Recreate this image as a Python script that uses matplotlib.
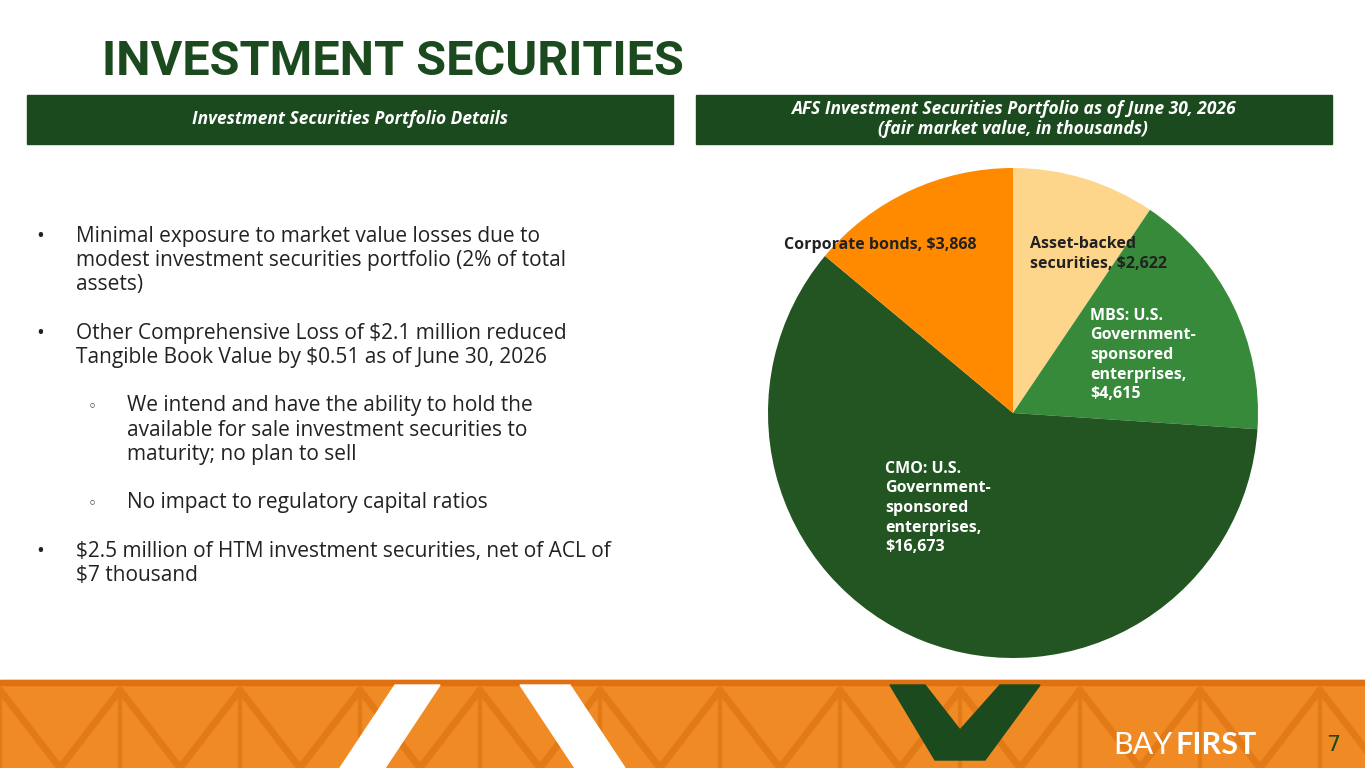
import matplotlib
matplotlib.use("Agg")
import matplotlib.pyplot as plt
from matplotlib.patches import Rectangle, Polygon

labels = ["Asset-backed\nsecurities, $2,622", "MBS: U.S.\nGovernment-\nsponsored\nenterprises,\n$4,615",
          "CMO: U.S.\nGovernment-\nsponsored\nenterprises,\n$16,673", "Corporate bonds, $3,868"]
values = [2622, 4615, 16673, 3868]
colors = ["#FDD68B", "#368A3A", "#225522", "#FF8A00"]
bullets = [
    (0, "Minimal exposure to market value losses due to\nmodest investment securities portfolio (2% of total\nassets)"),
    (0, "Other Comprehensive Loss of $2.1 million reduced\nTangible Book Value by $0.51 as of June 30, 2026"),
    (1, "We intend and have the ability to hold the\navailable for sale investment securities to\nmaturity; no plan to sell"),
    (1, "No impact to regulatory capital ratios"),
    (0, "$2.5 million of HTM investment securities, net of ACL of\n$7 thousand"),
]

W, H = 1365, 768
fig = plt.figure(figsize=(13.65, 7.68), dpi=100)
bg = fig.add_axes([0, 0, 1, 1]); bg.set_xlim(0, W); bg.set_ylim(H, 0); bg.axis("off")
DG = "#1B4A1E"
bg.text(102, 62, "INVESTMENT SECURITIES", fontsize=35, fontweight="bold", color=DG, va="center", family="Roboto")
bg.add_patch(Rectangle((27, 95), 646, 49, color=DG))
bg.add_patch(Rectangle((696, 95), 636, 49, color=DG))
bg.text(350, 119, "Investment Securities Portfolio Details", color="white", fontsize=12.5, fontweight="bold", style="italic", ha="center", va="center", family="Open Sans")
bg.text(1013, 119, "AFS Investment Securities Portfolio as of June 30, 2026\n(fair market value, in thousands)", color="white", fontsize=12.5, fontweight="bold", style="italic", ha="center", va="center", family="Open Sans", linespacing=1.15)

y = 226
for lvl, t in bullets:
    n = t.count("\n") + 1
    if lvl == 0:
        bg.text(36, y, "•", fontsize=15, va="top", family="Open Sans", color="#222")
        bg.text(76, y, t, fontsize=15, va="top", family="Open Sans", color="#222", linespacing=1.2)
    else:
        bg.text(88, y+4, "◦", fontsize=11, va="top", family="DejaVu Sans", color="#222")
        bg.text(127, y, t, fontsize=15, va="top", family="Open Sans", color="#222", linespacing=1.2)
    y += n * 24.3 + 24

# footer
bg.add_patch(Rectangle((0, 680), W, 88, color="#F08A24"))
bg.add_patch(Rectangle((0, 680), W, 5, color="#E07010"))
for x0 in range(-60, W + 60, 120):
    bg.plot([x0, x0 + 60, x0 + 120], [768, 690, 768], color="#E27A18", lw=5)
    bg.plot([x0 + 60, x0 + 60], [690, 768], color="#E27A18", lw=3)
bg.add_patch(Polygon([(340, 768), (395, 685), (440, 685), (385, 768)], color="white", zorder=5))
bg.add_patch(Polygon([(520, 685), (570, 685), (625, 768), (575, 768)], color="white", zorder=5))
bg.add_patch(Polygon([(890, 685), (925, 685), (960, 730), (1000, 685), (1040, 685), (985, 760), (935, 760)], color=DG, zorder=5))
bg.text(1113, 745, "BAY", fontsize=22, color="white", va="center", family="Lato", zorder=6)
bg.text(1175, 745, "FIRST", fontsize=22, color="white", va="center", fontweight="bold", family="Lato", zorder=6)
bg.text(1333, 745, "7", fontsize=16, color=DG, va="center", ha="center", zorder=6)

ax = fig.add_axes([(1013 - 245) / W, 1 - (413 + 245) / H, 490 / W, 490 / H])
ax.pie(values, colors=colors, startangle=90, counterclock=False)
ax.set_aspect("equal")
ax.set_xlim(-1, 1); ax.set_ylim(-1, 1)

top = fig.add_axes([0, 0, 1, 1]); top.set_xlim(0, W); top.set_ylim(H, 0); top.axis("off")
pos = [(1030, 254, "left", "#222"), (1090, 355, "left", "white"), (885, 508, "left", "white"), (977, 245, "right", "#222")]
for (x, yy, ha, c), lab in zip(pos, labels):
    top.text(x, yy, lab, fontsize=11.5, fontweight="bold", color=c, ha=ha, va="center", family="Open Sans", linespacing=1.3)
fig.savefig("out.png", dpi=100)
